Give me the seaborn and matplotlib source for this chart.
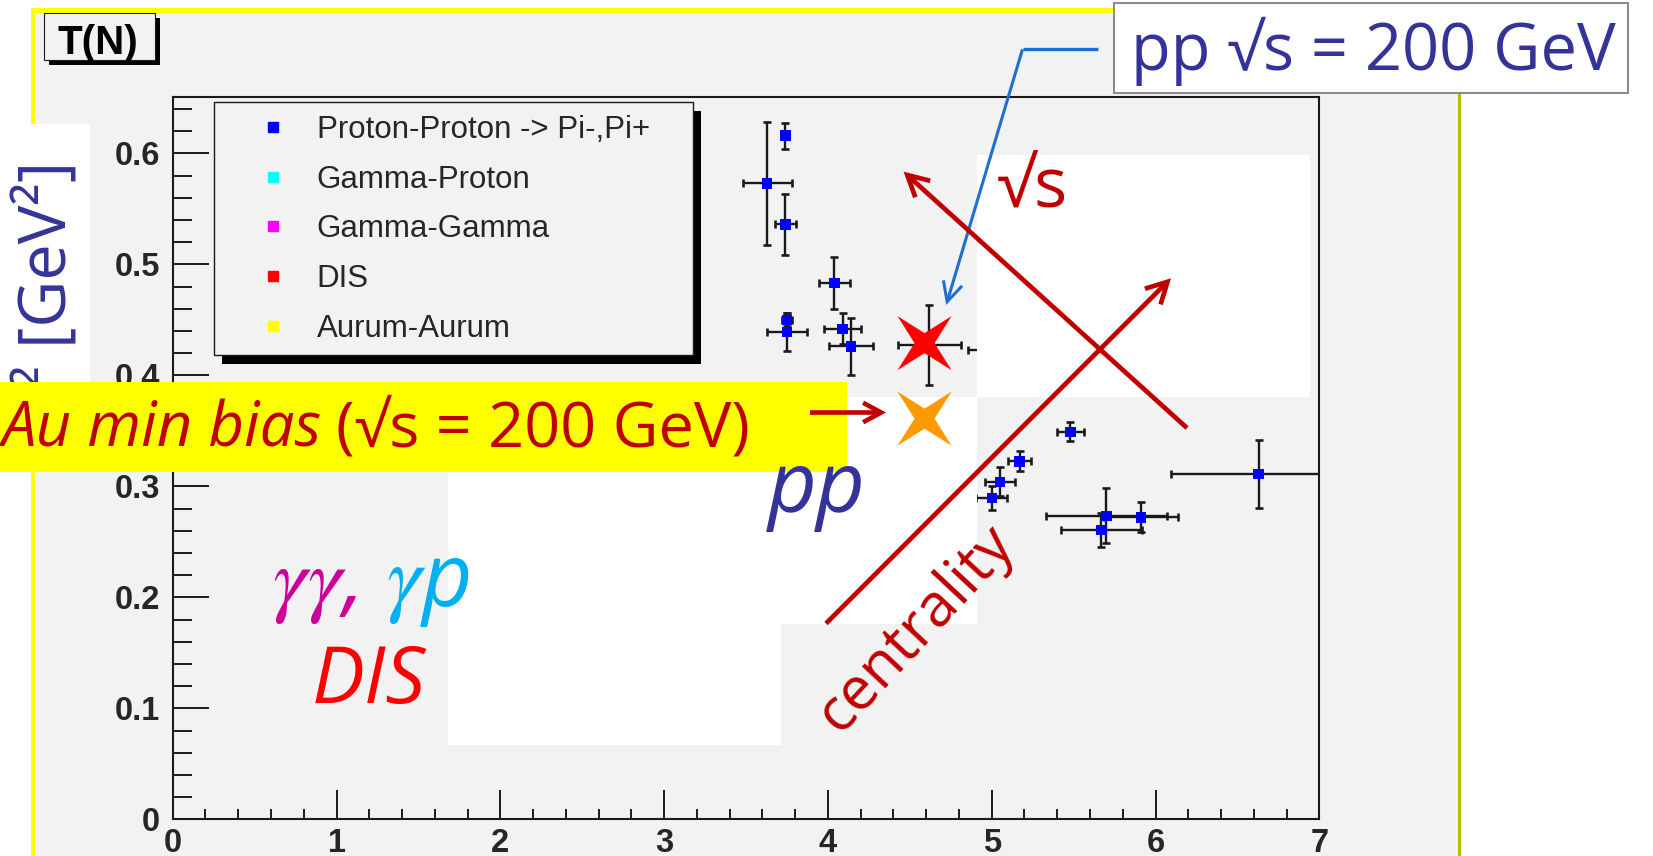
import matplotlib
matplotlib.use("Agg")
import matplotlib.pyplot as plt
import matplotlib.transforms as mtransforms
from matplotlib.patches import Rectangle, FancyArrowPatch
from matplotlib.lines import Line2D
from matplotlib.path import Path
from matplotlib.ticker import FixedLocator, MultipleLocator
import seaborn as sns

# ---------------- data ----------------
# proton-proton -> pi-, pi+ : N vs T^2 with errors
pp_n = [3.74, 3.63, 3.74, 4.04, 3.75, 3.75, 4.09, 4.14, 4.62, 5.00,
        5.48, 5.17, 5.05, 5.00, 5.70, 5.91, 5.67, 6.63]
pp_t2 = [0.616, 0.573, 0.536, 0.483, 0.450, 0.439, 0.442, 0.426, 0.427, 0.423,
         0.349, 0.3225, 0.304, 0.2895, 0.2735, 0.272, 0.2605, 0.311]
pp_nerr = [0.02, 0.148, 0.063, 0.095, 0.03, 0.124, 0.111, 0.134, 0.195, 0.145,
           0.081, 0.072, 0.09, 0.094, 0.37, 0.227, 0.247, 0.534]
pp_t2err = [0.0117, 0.0553, 0.0273, 0.0235, 0.006, 0.0172, 0.014, 0.0258, 0.036, 0.01,
            0.0086, 0.009, 0.013, 0.0105, 0.025, 0.0135, 0.0155, 0.0305]

# highlighted points: pp at sqrt(s)=200 GeV and Au+Au minimum bias
pp200_n, pp200_t2 = [4.59], [0.429]
auau_n, auau_t2 = [4.59], [0.361]

legend_labels = ["Proton-Proton -> Pi-,Pi+", "Gamma-Proton", "Gamma-Gamma",
                 "DIS", "Aurum-Aurum"]
legend_colors = ["#0000ff", "#00ffff", "#ff00ff", "#ff0000", "#ffff00"]

x_ticks = [0, 1, 2, 3, 4, 5, 6, 7]
x_ticklabels = ["0", "1", "2", "3", "4", "5", "6", "7"]
y_ticks = [0.0, 0.1, 0.2, 0.3, 0.4, 0.5, 0.6]
y_ticklabels = ["0", "0.1", "0.2", "0.3", "0.4", "0.5", "0.6"]

# ---------------- figure ----------------
W, H, DPI = 1653, 856, 100
sns.set_theme(style="white")
plt.rcParams["font.family"] = ["DejaVu Sans"]
plt.rcParams["mathtext.fontset"] = "stix"

fig = plt.figure(figsize=(W / DPI, H / DPI), dpi=DPI, facecolor="white")
# pixel coordinates, origin top-left
px = mtransforms.Affine2D().scale(1.0 / W, -1.0 / H).translate(0, 1) + fig.transFigure

CANVAS = "#f2f2f2"
DARKRED = "#c00000"
NAVY = "#333399"
SLIDE = ["Open Sans", "DejaVu Sans"]

# canvas fill and bevelled yellow border
fig.patches.append(Rectangle((35, 13), 1423, 900, facecolor=CANVAS, edgecolor="none",
                             transform=px, zorder=-5))
fig.patches.append(Rectangle((30.7, 8), 4.6, 900, facecolor="#ffff00", edgecolor="none",
                             transform=px, zorder=-4))
fig.patches.append(Rectangle((30.7, 8), 1430, 5, facecolor="#ffff00", edgecolor="none",
                             transform=px, zorder=-4))
fig.patches.append(Rectangle((1457.7, 13), 3.6, 900, facecolor="#bdb800", edgecolor="none",
                             transform=px, zorder=-4))

# frame of the plot
L, R, T, B = 172.7, 1319.3, 97.3, 819.3
ax = fig.add_axes([L / W, 1 - B / H, (R - L) / W, (B - T) / H])
ax.set_facecolor(CANVAS)

ax.errorbar(pp_n, pp_t2, xerr=pp_nerr, yerr=pp_t2err, fmt="none", ecolor="#1a1a1a",
            elinewidth=1.7, capsize=3.0, capthick=1.9, zorder=2)
sns.scatterplot(x=pp_n, y=pp_t2, marker="s", s=56, color="#0000ff", edgecolor="none",
                linewidth=0, zorder=3, legend=False, ax=ax)

ax.set_xlim(0, 7)
ax.set_ylim(0, 0.6505)
ax.set_xlabel("")
ax.set_ylabel("")

tick_font = dict(family="Liberation Sans", weight="bold", size=23.5)
ax.xaxis.set_major_locator(FixedLocator(x_ticks))
ax.set_xticklabels(x_ticklabels, fontdict=tick_font)
ax.yaxis.set_major_locator(FixedLocator(y_ticks))
ax.set_yticklabels(y_ticklabels, fontdict=tick_font)
ax.xaxis.set_minor_locator(MultipleLocator(0.2))
ax.yaxis.set_minor_locator(MultipleLocator(0.02))
ax.tick_params(axis="x", which="major", direction="in", length=21, width=1.4,
               color="#1a1a1a", pad=6.5, bottom=True, top=False)
ax.tick_params(axis="x", which="minor", direction="in", length=7.2, width=1.4,
               color="#1a1a1a", bottom=True, top=False)
ax.tick_params(axis="y", which="major", direction="in", length=25.9, width=1.4,
               color="#1a1a1a", pad=9, left=True, right=False)
ax.tick_params(axis="y", which="minor", direction="in", length=13.7, width=1.4,
               color="#1a1a1a", left=True, right=False)
for sp in ax.spines.values():
    sp.set_color("#1a1a1a")
    sp.set_linewidth(1.5)

renderer = fig.canvas.get_renderer()


def px_rect(x0, y0, x1, y1, z, **kw):
    r = Rectangle((x0, y0), x1 - x0, y1 - y0, transform=px, clip_on=False, zorder=z, **kw)
    ax.add_patch(r)
    return r


def px_text(x, y, s, z=8, **kw):
    return ax.text(x, y, s, transform=px, clip_on=False, zorder=z, **kw)


def fit_width(t, target):
    w = t.get_window_extent(renderer).width
    if w > target:
        t.set_fontsize(t.get_fontsize() * target / w)


def fit_height(t, target):
    h = t.get_window_extent(renderer).height
    if h > target:
        t.set_fontsize(t.get_fontsize() * target / h)


# legend with shadowed box
px_rect(222, 110.7, 700.7, 364, 4.4, facecolor="black", edgecolor="none")
px_rect(214, 101.7, 692.7, 355, 4.5, facecolor=CANVAS, edgecolor="#1a1a1a", linewidth=1.0)
handles = [Line2D([], [], marker="s", linestyle="none", markersize=7.2,
                  markerfacecolor=c, markeredgecolor=c) for c in legend_colors]
leg = ax.legend(handles, legend_labels, loc="upper left", bbox_to_anchor=(221, 115),
                bbox_transform=px, frameon=False, borderaxespad=0, borderpad=0,
                handlelength=3.31, handletextpad=-0.25, labelspacing=0.63,
                prop={"family": "Liberation Sans", "size": 22.5})
leg.set_zorder(5)

# title pave
px_rect(48.5, 17.5, 159.5, 64.5, 4.4, facecolor="black", edgecolor="none")
px_rect(44, 13, 155, 60, 4.5, facecolor=CANVAS, edgecolor="#1a1a1a", linewidth=0.8)
px_text(98, 54, "T(N)", z=5, ha="center", va="baseline", family="Liberation Sans",
        weight="bold", fontsize=29, color="black")

# white cover-up panels
for x0, y0, x1, y1 in [(977, 155, 1310, 397), (448, 397, 977, 624), (448, 397, 781, 745)]:
    px_rect(x0, y0, x1, y1, 4.2, facecolor="white", edgecolor="none")

# vertical axis title on a white patch
px_rect(0, 124, 90, 400, 4.2, facecolor="white", edgecolor="none")
ylab = px_text(66, 161, "T\u00b2 [GeV\u00b2]", z=5, rotation=90, rotation_mode="anchor",
               ha="right", va="baseline", fontsize=47, color=NAVY, family=SLIDE)
fit_height(ylab, 262)

# highlighted stars
star = Path([(1, 1), (0, 0.37), (-1, 1), (-0.37, 0), (-1, -1), (0, -0.37), (1, -1),
             (0.37, 0), (1, 1)], closed=True)
sns.scatterplot(x=pp200_n, y=pp200_t2, marker=star, s=39 ** 2, color="#ff0000",
                edgecolor="none", linewidth=0, zorder=6, legend=False, ax=ax, clip_on=False)
sns.scatterplot(x=auau_n, y=auau_t2, marker=star, s=39 ** 2, color="#ff9900",
                edgecolor="none", linewidth=0, zorder=6, legend=False, ax=ax, clip_on=False)

# label box for pp at 200 GeV with a leader arrow
px_rect(1114, 3, 1628, 93.3, 6, facecolor="white", edgecolor="#8c8c8c", linewidth=1.5)
t = px_text(1131, 70, "pp \u221as = 200 GeV", fontsize=47, color=NAVY,
            ha="left", va="baseline", family=SLIDE)
fit_width(t, 485)
BLUE = "#1f6fd0"
ax.add_line(Line2D([1098, 1022.5], [49.3, 49.3], transform=px, color=BLUE, lw=2.4,
                   clip_on=False, zorder=7, solid_capstyle="butt"))


def arrow(a, b, color, lw, hl, hw):
    p = FancyArrowPatch(posA=a, posB=b, arrowstyle=f"->,head_length={hl},head_width={hw}",
                        mutation_scale=1, color=color, lw=lw, transform=px, clip_on=False,
                        zorder=7, shrinkA=0, shrinkB=0, joinstyle="miter", capstyle="butt")
    ax.add_patch(p)


arrow((1022.5, 49.3), (946.2, 305), BLUE, 2.2, 14, 7)

# Au+Au label
px_rect(-5, 381.7, 846.7, 471.7, 7, facecolor="#ffff00", edgecolor="none")
t1 = px_text(322, 447, "Au min bias", fontsize=45.4, color=DARKRED, style="italic",
             ha="right", va="baseline", family=SLIDE)
fit_width(t1, 320)
t2 = px_text(336, 447, "(\u221as = 200 GeV)", fontsize=45.4, color=DARKRED,
             ha="left", va="baseline", family=SLIDE)
fit_width(t2, 455)
arrow((810, 412.5), (886, 412.5), DARKRED, 3.3, 13, 7)

# trend arrows
arrow((1187, 428), (903.6, 171.7), DARKRED, 3.4, 15, 8)
arrow((826, 623.5), (1171, 278.3), DARKRED, 3.4, 15, 8)
t = px_text(997, 208, "\u221as", fontsize=50, color=DARKRED, ha="left", va="baseline",
            family=SLIDE)
fit_width(t, 78)
px_text(916, 629, "centrality", fontsize=43, color=DARKRED, rotation=47,
        rotation_mode="anchor", ha="center", va="center", family=SLIDE)

# process labels
px_text(768, 512, "pp", fontsize=61, color=NAVY, style="italic", ha="left", va="baseline",
        family=SLIDE)
px_text(272, 606, r"$\gamma\gamma$,", fontsize=62, color="#cc0099", family=SLIDE,
        style="italic", ha="left", va="baseline")
px_text(386, 606, r"$\gamma$p", fontsize=63, color="#00b0f0", family=SLIDE,
        style="italic", ha="left", va="baseline")
px_text(312, 703.3, "DIS", fontsize=57, color="#ff0000", style="italic", ha="left",
        va="baseline", family=SLIDE)

fig.savefig("out.png", dpi=DPI, facecolor="white")
